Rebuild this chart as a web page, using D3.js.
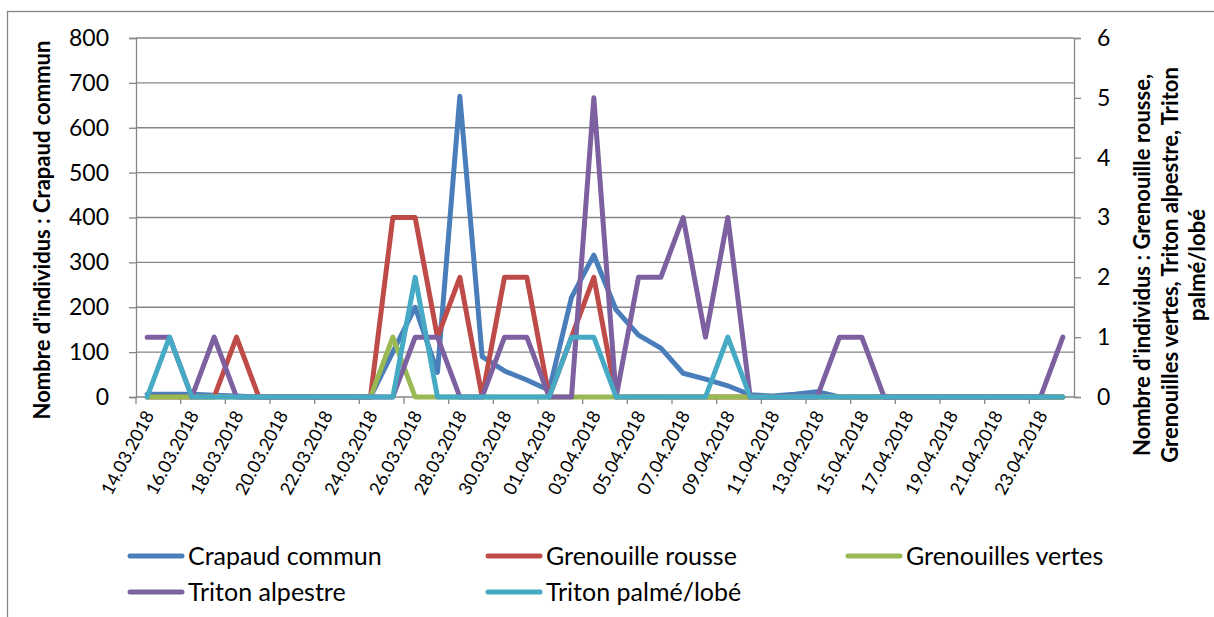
<!DOCTYPE html>
<html>
<head>
<meta charset="utf-8">
<script src="https://d3js.org/d3.v7.min.js"></script>
<style>
    body { margin: 0; background: white; }
    svg text { font-family: 'Lato', sans-serif; fill: #000; }
</style>
</head>
<body>
<svg id="chart" width="1214" height="617"></svg>
<script>
    // categories: one per day
    var dates = ['14.03.2018','15.03.2018','16.03.2018','17.03.2018','18.03.2018','19.03.2018','20.03.2018',
        '21.03.2018','22.03.2018','23.03.2018','24.03.2018','25.03.2018','26.03.2018','27.03.2018',
        '28.03.2018','29.03.2018','30.03.2018','31.03.2018','01.04.2018','02.04.2018','03.04.2018',
        '04.04.2018','05.04.2018','06.04.2018','07.04.2018','08.04.2018','09.04.2018','10.04.2018',
        '11.04.2018','12.04.2018','13.04.2018','14.04.2018','15.04.2018','16.04.2018','17.04.2018',
        '18.04.2018','19.04.2018','20.04.2018','21.04.2018','22.04.2018','23.04.2018','24.04.2018'];

    // left axis
    var crapaudCommun = [6,6,6,4,2,0,0,0,0,0,0,100,200,55,670,90,58,38,15,222,316,194,138,109,53,40,25,5,2,6,12,0,0,0,0,0,0,0,0,0,0,0];
    // right axis
    var grenouilleRousse = [0,0,0,0,1,0,0,0,0,0,0,3,3,1,2,0,2,2,0,1,2,0,0,0,0,0,0,0,0,0,0,0,0,0,0,0,0,0,0,0,0,0];
    var grenouillesVertes = [0,0,0,0,0,0,0,0,0,0,0,1,0,0,0,0,0,0,0,0,0,0,0,0,0,0,0,0,0,0,0,0,0,0,0,0,0,0,0,0,0,0];
    var tritonAlpestre = [1,1,0,1,0,0,0,0,0,0,0,0,1,1,0,0,1,1,0,0,5,0,2,2,3,1,3,0,0,0,0,1,1,0,0,0,0,0,0,0,0,1];
    var tritonPalme = [0,1,0,0,0,0,0,0,0,0,0,0,2,0,0,0,0,0,0,1,1,0,0,0,0,0,1,0,0,0,0,0,0,0,0,0,0,0,0,0,0,0];

    var leftTicks = [0,100,200,300,400,500,600,700,800];
    var rightTicks = [0,1,2,3,4,5,6];

    var series = [
        {name: 'Crapaud commun', values: crapaudCommun, axis: 'left', color: '#4a7ebb'},
        {name: 'Grenouille rousse', values: grenouilleRousse, axis: 'right', color: '#be4b48'},
        {name: 'Grenouilles vertes', values: grenouillesVertes, axis: 'right', color: '#98b954'},
        {name: 'Triton alpestre', values: tritonAlpestre, axis: 'right', color: '#7d60a0'},
        {name: 'Triton palmé/lobé', values: tritonPalme, axis: 'right', color: '#46aac5'}
    ];

    var plotLeft = 136, plotRight = 1074, plotTop = 38, plotBottom = 397;
    var grey = '#868686';
    var svg = d3.select('#chart');

    // outer frame
    svg.append('rect')
        .attr('x', 7.5).attr('y', 11.5)
        .attr('width', 1300).attr('height', 700)
        .attr('fill', 'none').attr('stroke', grey).attr('stroke-width', 1.3);

    var x = d3.scalePoint().domain(dates).range([plotLeft, plotRight]).padding(0.5);
    var yLeft = d3.scaleLinear().domain([0, 800]).range([plotBottom, plotTop]);
    var yRight = d3.scaleLinear().domain([0, 6]).range([plotBottom, plotTop]);

    // gridlines
    svg.append('g')
        .selectAll('line')
        .data(leftTicks.slice(1))
        .join('line')
        .attr('x1', plotLeft).attr('x2', plotRight)
        .attr('y1', d => yLeft(d)).attr('y2', d => yLeft(d))
        .attr('stroke', grey).attr('stroke-width', 1.3);

    // left axis
    var gl = svg.append('g')
        .attr('transform', 'translate(' + plotLeft + ',0)')
        .call(d3.axisLeft(yLeft).tickValues(leftTicks).tickSize(7).tickPadding(20));
    // right axis
    var gr = svg.append('g')
        .attr('transform', 'translate(' + plotRight + ',0)')
        .call(d3.axisRight(yRight).tickValues(rightTicks).tickFormat(d3.format('d')).tickSize(7).tickPadding(16));
    [gl, gr].forEach(function (g) {
        g.select('.domain').attr('stroke', grey).attr('stroke-width', 1.3);
        g.selectAll('.tick line').attr('stroke', grey).attr('stroke-width', 1.3);
        g.selectAll('.tick text').attr('font-size', 23).attr('font-family', 'Lato').attr('fill', '#000');
    });

    // bottom axis: tick marks between categories, every 2 days
    var step = x.step();
    var labelDates = dates.filter((d, i) => i % 2 === 0);
    var gx = svg.append('g');
    gx.append('line')
        .attr('x1', plotLeft).attr('x2', plotRight)
        .attr('y1', plotBottom).attr('y2', plotBottom)
        .attr('stroke', grey).attr('stroke-width', 1.3);
    gx.selectAll('line.tick')
        .data(labelDates)
        .join('line')
        .attr('class', 'tick')
        .attr('x1', d => x(d) - step / 2).attr('x2', d => x(d) - step / 2)
        .attr('y1', plotBottom).attr('y2', plotBottom + 7)
        .attr('stroke', grey).attr('stroke-width', 1.3);
    gx.selectAll('text')
        .data(labelDates)
        .join('text')
        .attr('transform', d => 'translate(' + (x(d) + 2) + ',' + (plotBottom + 15) + ') rotate(-62)')
        .attr('text-anchor', 'end')
        .attr('dy', '0.35em')
        .attr('font-size', 18)
        .text(d => d);

    // lines
    var lineLeft = d3.line().x((d, i) => x(dates[i])).y(d => yLeft(d));
    var lineRight = d3.line().x((d, i) => x(dates[i])).y(d => yRight(d));
    svg.append('g')
        .selectAll('path')
        .data(series)
        .join('path')
        .attr('d', s => (s.axis === 'left' ? lineLeft : lineRight)(s.values))
        .attr('fill', 'none')
        .attr('stroke', s => s.color)
        .attr('stroke-width', 5)
        .attr('stroke-linejoin', 'round')
        .attr('stroke-linecap', 'round');

    // axis titles
    svg.append('text')
        .attr('transform', 'translate(50,230) rotate(-90)')
        .attr('text-anchor', 'middle')
        .attr('font-size', 22).attr('font-weight', 'bold')
        .text("Nombre d'individus : Crapaud commun");

    var rightTitle = ["Nombre d'individus : Grenouille rousse,", 'Grenouilles vertes, Triton alpestre, Triton', 'palmé/lobé'];
    svg.append('g')
        .selectAll('text')
        .data(rightTitle)
        .join('text')
        .attr('transform', (d, i) => 'translate(' + (1150 + i * 27.5) + ',265) rotate(-90)')
        .attr('text-anchor', 'middle')
        .attr('font-size', 22).attr('font-weight', 'bold')
        .text(d => d);

    // legend
    var legendPos = [[130, 556], [488, 556], [848, 556], [130, 592], [488, 592]];
    var lg = svg.append('g')
        .selectAll('g')
        .data(series)
        .join('g')
        .attr('transform', (s, i) => 'translate(' + legendPos[i][0] + ',' + legendPos[i][1] + ')');
    lg.append('line')
        .attr('x1', 0).attr('x2', 52)
        .attr('stroke', s => s.color).attr('stroke-width', 5)
        .attr('stroke-linecap', 'round');
    lg.append('text')
        .attr('x', 58).attr('dy', '0.35em')
        .attr('font-size', 25)
        .text(s => s.name);
</script>
</body>
</html>
